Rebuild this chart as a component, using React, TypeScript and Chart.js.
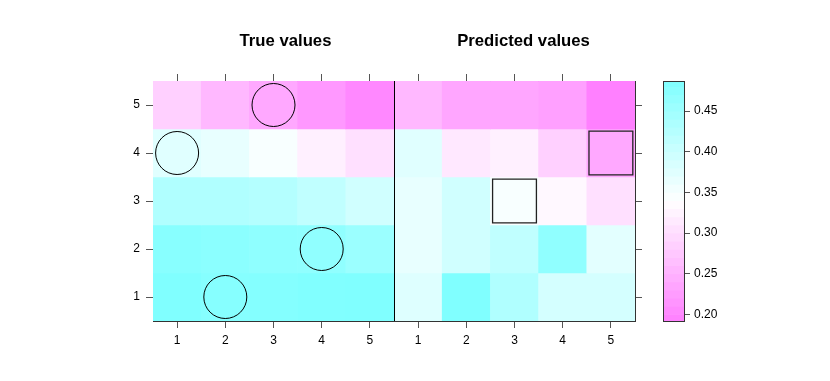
import React, { useEffect, useRef } from 'react';
import { Chart, registerables } from 'chart.js';

Chart.register(...registerables);

// ---- data ----
const columns = [1, 2, 3, 4, 5];
const rows = [1, 2, 3, 4, 5];
const xTickLabels = ['1', '2', '3', '4', '5', '1', '2', '3', '4', '5'];
const yTickLabels = ['1', '2', '3', '4', '5'];
const panelTitles = ['True values', 'Predicted values'];

// rows listed from bottom (1) to top (5); each row holds columns 1..5
const trueValues = [
  [0.487, 0.480, 0.482, 0.486, 0.487],
  [0.478, 0.474, 0.469, 0.468, 0.456],
  [0.431, 0.431, 0.427, 0.413, 0.394],
  [0.375, 0.366, 0.348, 0.322, 0.303],
  [0.285, 0.257, 0.238, 0.220, 0.201],
];
const predictedValues = [
  [0.378, 0.487, 0.431, 0.390, 0.390],
  [0.366, 0.394, 0.413, 0.468, 0.372],
  [0.366, 0.394, 0.348, 0.331, 0.303],
  [0.375, 0.313, 0.322, 0.285, 0.238],
  [0.257, 0.236, 0.236, 0.229, 0.192],
];

// marked cells (panel column, row)
const circleCols = [3, 1, 4, 2];
const circleRows = [5, 4, 2, 1];
const squareCols = [5, 3];
const squareRows = [4, 3];

// colour key
const keyMin = 0.192;
const keyMax = 0.487;
const keyTicks = [0.2, 0.25, 0.3, 0.35, 0.4, 0.45];
const keyBreaks = [
  0.19, 0.2, 0.21, 0.22, 0.23, 0.24, 0.25, 0.26, 0.27, 0.28, 0.29, 0.3, 0.31, 0.32, 0.33,
  0.34, 0.35, 0.36, 0.37, 0.38, 0.39, 0.4, 0.41, 0.42, 0.43, 0.44, 0.45, 0.46, 0.47, 0.48, 0.49,
];

const FONT = '"Liberation Sans", Arial, Helvetica, sans-serif';
Chart.defaults.font.family = FONT;

function colorFor(v: number): string {
  const t = Math.min(1, Math.max(0, (v - keyMin) / (keyMax - keyMin)));
  let r: number, g: number;
  if (t < 0.5) {
    const f = t / 0.5;
    r = 255;
    g = 128 + 127 * f;
  } else {
    const f = (t - 0.5) / 0.5;
    r = 255 - 127 * f;
    g = 255;
  }
  return `rgb(${Math.round(r)},${Math.round(g)},255)`;
}

function panelCells(values: number[][], offset: number) {
  const data: any[] = [];
  const colors: string[] = [];
  rows.forEach((r, ri) => {
    columns.forEach((c, ci) => {
      data.push({ x: c + offset, y: [r - 0.5, r + 0.5] });
      colors.push(colorFor(values[ri][ci]));
    });
  });
  return { data, colors };
}

const tickFont = { size: 12, family: FONT };

export default function App() {
  const mainRef = useRef<HTMLCanvasElement>(null);
  const keyRef = useRef<HTMLCanvasElement>(null);

  useEffect(() => {
    const left = panelCells(trueValues, 0);
    const right = panelCells(predictedValues, 5);

    const titlesPlugin = {
      id: 'panelTitles',
      afterDraw(chart: any) {
        const { ctx, chartArea } = chart;
        const xs = chart.scales.x;
        ctx.save();
        // divider between panels
        const xd = Math.round(xs.getPixelForValue(5.5)) + 0.5;
        ctx.strokeStyle = '#000';
        ctx.lineWidth = 1;
        ctx.beginPath();
        ctx.moveTo(xd, chartArea.top);
        ctx.lineTo(xd, chartArea.bottom);
        ctx.stroke();
        // titles
        ctx.fillStyle = '#000';
        ctx.font = `bold 16.7px ${FONT}`;
        ctx.textAlign = 'center';
        ctx.textBaseline = 'middle';
        ctx.fillText(panelTitles[0], xs.getPixelForValue(3) + 12, 41);
        ctx.fillText(panelTitles[1], xs.getPixelForValue(8) + 9, 41);
        ctx.restore();
      },
    };

    const xTicks = () => xTickLabels.map((_, i) => ({ value: i + 1 }));
    const yTicks = () => yTickLabels.map((_, i) => ({ value: i + 1 }));

    const gridOpts = { drawOnChartArea: false, drawTicks: true, tickLength: 7, offset: false, color: '#555', tickColor: '#555' };
    const borderOpts = { display: true, color: '#333', width: 1 };

    const main = new Chart(mainRef.current!, {
      type: 'bar',
      data: {
        datasets: [
          {
            type: 'scatter',
            label: 'true markers',
            data: circleCols.map((c, i) => ({ x: c, y: circleRows[i] })),
            pointStyle: 'circle',
            radius: 21.5,
            hoverRadius: 21.5,
            borderColor: '#000',
            borderWidth: 1,
            backgroundColor: 'rgba(0,0,0,0)',
            clip: false,
            order: 1,
          } as any,
          {
            type: 'scatter',
            label: 'predicted markers',
            data: squareCols.map((c, i) => ({ x: c + 5, y: squareRows[i] })),
            pointStyle: 'rect',
            radius: 31,
            hoverRadius: 31,
            borderColor: '#222',
            borderWidth: 1.3,
            backgroundColor: 'rgba(0,0,0,0)',
            clip: false,
            order: 1,
          } as any,
          {
            label: panelTitles[0],
            data: left.data,
            backgroundColor: left.colors,
            borderWidth: 0,
            grouped: false,
            barPercentage: 1,
            categoryPercentage: 1,
            order: 2,
          } as any,
          {
            label: panelTitles[1],
            data: right.data,
            backgroundColor: right.colors,
            borderWidth: 0,
            grouped: false,
            barPercentage: 1,
            categoryPercentage: 1,
            order: 2,
          } as any,
        ],
      },
      options: {
        animation: false,
        responsive: false,
        devicePixelRatio: 1,
        events: [],
        layout: { padding: 0 },
        plugins: { legend: { display: false }, tooltip: { enabled: false }, title: { display: false } },
        scales: {
          x: {
            type: 'linear',
            axis: 'x',
            position: 'bottom',
            offset: false,
            min: 0.5,
            max: 10.5,
            afterBuildTicks: (s: any) => { s.ticks = xTicks(); },
            afterFit: (s: any) => { s.height = 60; },
            ticks: {
              callback: (_v: any, i: number) => xTickLabels[i],
              autoSkip: false,
              maxRotation: 0,
              padding: 5,
              color: '#000',
              font: tickFont,
            },
            grid: gridOpts,
            border: borderOpts,
          },
          xTop: {
            type: 'linear',
            axis: 'x',
            position: 'top',
            offset: false,
            min: 0.5,
            max: 10.5,
            afterBuildTicks: (s: any) => { s.ticks = xTicks(); },
            afterFit: (s: any) => { s.height = 81; },
            ticks: { display: false },
            grid: gridOpts,
            border: borderOpts,
          },
          y: {
            type: 'linear',
            axis: 'y',
            position: 'left',
            offset: false,
            min: 0.5,
            max: 5.5,
            afterBuildTicks: (s: any) => { s.ticks = yTicks(); },
            afterFit: (s: any) => { s.width = 153; },
            ticks: {
              callback: (_v: any, i: number) => yTickLabels[i],
              autoSkip: false,
              padding: 6,
              color: '#000',
              font: tickFont,
            },
            grid: gridOpts,
            border: borderOpts,
          },
          yRight: {
            type: 'linear',
            axis: 'y',
            position: 'right',
            offset: false,
            min: 0.5,
            max: 5.5,
            afterBuildTicks: (s: any) => { s.ticks = yTicks(); },
            afterFit: (s: any) => { s.width = 195; },
            ticks: { display: false },
            grid: gridOpts,
            border: borderOpts,
          },
        },
      } as any,
      plugins: [titlesPlugin],
    });

    const keyData = keyBreaks.slice(0, -1).map((b, i) => ({ x: 0.5, y: [b, keyBreaks[i + 1]] }));
    const keyColors = keyBreaks.slice(0, -1).map((b, i) => colorFor((b + keyBreaks[i + 1]) / 2));

    const keyFrame = {
      id: 'keyFrame',
      afterDraw(chart: any) {
        const { ctx, chartArea } = chart;
        ctx.save();
        ctx.strokeStyle = '#333';
        ctx.lineWidth = 1;
        const l = Math.round(chartArea.left) + 0.5;
        const t = Math.round(chartArea.top) + 0.5;
        const r = Math.round(chartArea.right) + 0.5;
        const b = Math.round(chartArea.bottom) + 0.5;
        ctx.strokeRect(l, t, r - l, b - t);
        ctx.restore();
      },
    };

    const key = new Chart(keyRef.current!, {
      type: 'bar',
      data: {
        datasets: [
          {
            label: 'key',
            data: keyData,
            backgroundColor: keyColors,
            borderWidth: 0,
            grouped: false,
            barThickness: 22,
          } as any,
        ],
      },
      options: {
        animation: false,
        responsive: false,
        devicePixelRatio: 1,
        events: [],
        layout: { padding: { left: 23, right: 16, top: 81, bottom: 60 } },
        plugins: { legend: { display: false }, tooltip: { enabled: false } },
        scales: {
          x: { type: 'linear', offset: false, min: 0, max: 1, display: false },
          y: {
            type: 'linear',
            position: 'right',
            min: keyMin,
            max: keyMax,
            afterBuildTicks: (s: any) => { s.ticks = keyTicks.map((v) => ({ value: v })); },
            afterFit: (s: any) => { s.width = 60; },
            ticks: {
              callback: (v: any) => Number(v).toFixed(2),
              autoSkip: false,
              padding: 4,
              color: '#000',
              font: tickFont,
            },
            grid: { drawOnChartArea: false, drawTicks: true, tickLength: 6, color: '#555', tickColor: '#555' },
            border: borderOpts,
          },
        },
      } as any,
      plugins: [keyFrame],
    });

    return () => {
      main.destroy();
      key.destroy();
    };
  }, []);

  return (
    <div style={{ position: 'absolute', left: 0, top: 0, width: 830, height: 381, background: '#fff' }}>
      <canvas
        ref={mainRef}
        width={830}
        height={381}
        style={{ position: 'absolute', left: 0, top: 0, width: 830, height: 381 }}
      />
      <canvas
        ref={keyRef}
        width={120}
        height={381}
        style={{ position: 'absolute', left: 640, top: 0, width: 120, height: 381 }}
      />
    </div>
  );
}
